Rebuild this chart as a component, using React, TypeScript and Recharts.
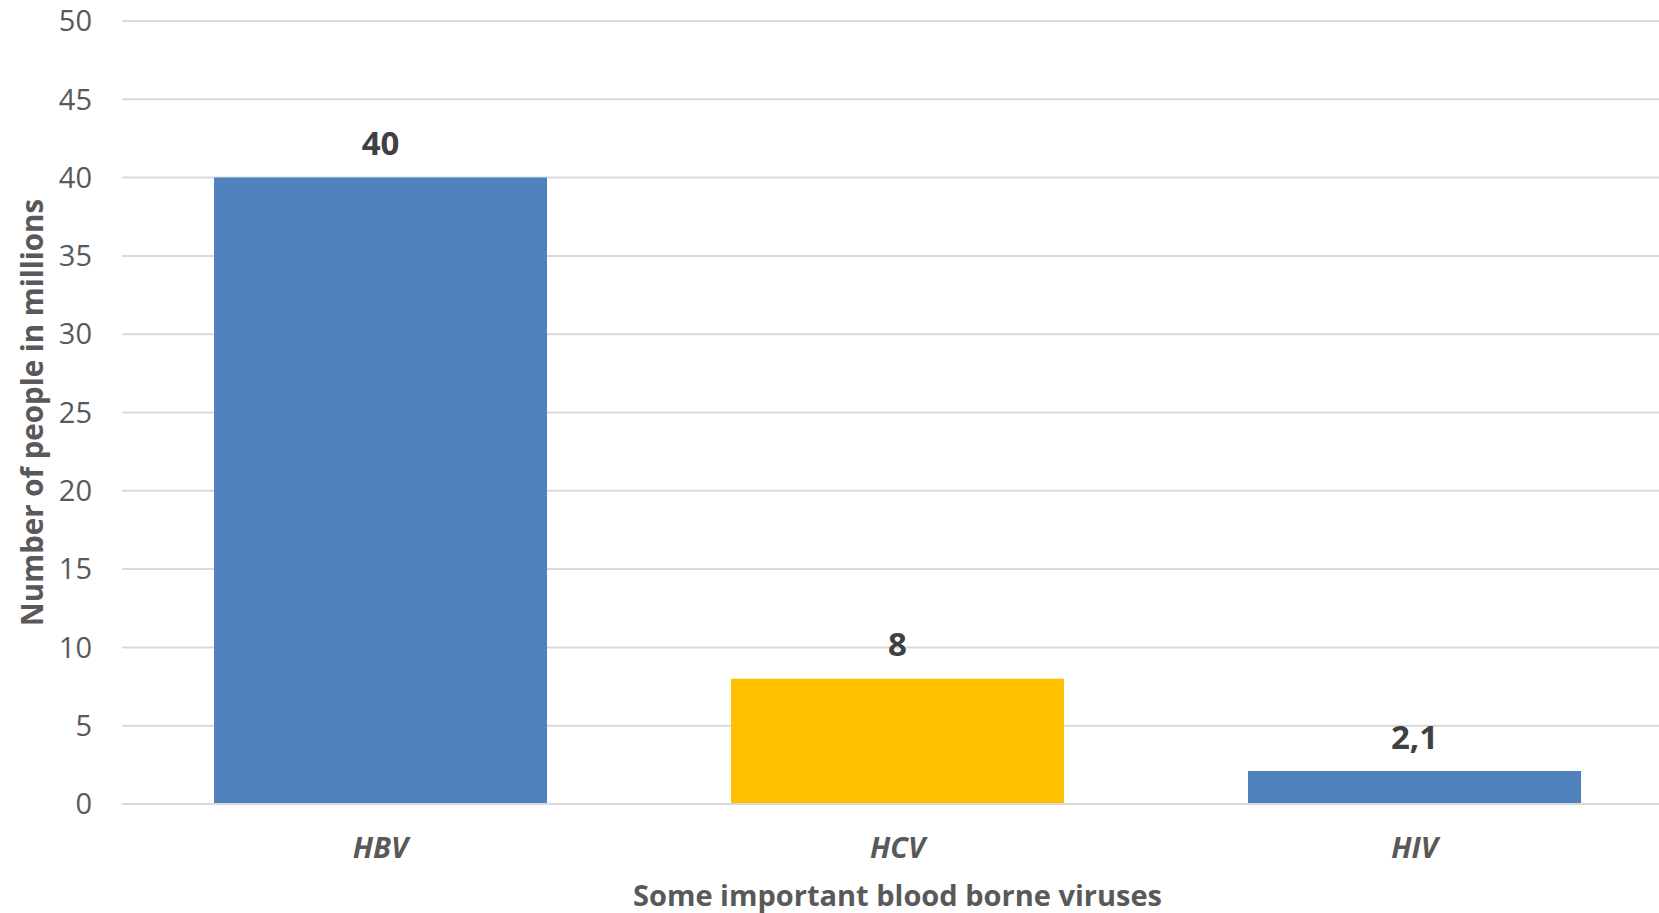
import React from 'react';
import { BarChart, Bar, XAxis, YAxis, CartesianGrid, Cell, LabelList, Label } from 'recharts';

const viruses = ['HBV', 'HCV', 'HIV'];
const peopleMillions = [40, 8, 2.1];
const barColors = ['#4f81bd', '#ffc000', '#4f81bd'];
const yTicks = [0, 5, 10, 15, 20, 25, 30, 35, 40, 45, 50];

const chartData = viruses.map((name, i) => ({ name, value: peopleMillions[i] }));

const FONT = '"Open Sans", "Noto Sans", sans-serif';

function CategoryTick(props: any) {
  const { x, y, payload } = props;
  return (
    <text
      x={x}
      y={y + 34}
      textAnchor="middle"
      dominantBaseline="central"
      fontFamily={FONT}
      fontSize={29}
      fontWeight={700}
      fontStyle="italic"
      fill="#595959"
    >
      {payload.value}
    </text>
  );
}

function ValueLabel(props: any) {
  const { x, y, width, value } = props;
  return (
    <text
      x={x + width / 2}
      y={y - 35}
      textAnchor="middle"
      dominantBaseline="central"
      fontFamily={FONT}
      fontSize={33}
      fontWeight={700}
      fill="#404040"
    >
      {String(value).replace('.', ',')}
    </text>
  );
}

export default function App() {
  // the original plot area runs a little past the right edge of the picture
  return (
    <div
      style={{
        position: 'fixed',
        left: 0,
        top: 0,
        width: 1659,
        height: 913,
        overflow: 'hidden',
        background: '#fff',
      }}
    >
      <BarChart
        width={1673}
        height={913}
        data={chartData}
        margin={{ top: 21, right: 0, bottom: 0, left: 0 }}
        barCategoryGap="17.8%"
      >
        <CartesianGrid vertical={false} stroke="#d9d9d9" strokeWidth={2} />
        <XAxis
          dataKey="name"
          height={109}
          axisLine={{ stroke: '#d9d9d9', strokeWidth: 2 }}
          tickLine={false}
          tick={<CategoryTick />}
          interval={0}
        >
          <Label
            content={({ viewBox }: any) => (
              <text
                x={viewBox.x + viewBox.width / 2}
                y={viewBox.y + 90}
                textAnchor="middle"
                dominantBaseline="central"
                fontFamily={FONT}
                fontSize={29}
                fontWeight={700}
                fill="#595959"
              >
                Some important blood borne viruses
              </text>
            )}
          />
        </XAxis>
        <YAxis
          width={122}
          domain={[0, 50]}
          ticks={yTicks}
          axisLine={false}
          tickLine={false}
          tickSize={0}
          tickMargin={30}
          tick={{ fontFamily: FONT, fontSize: 29, fill: '#595959' }}
        >
          <Label
            content={({ viewBox }: any) => {
              const cx = viewBox.x + 31;
              const cy = viewBox.y + viewBox.height / 2;
              return (
                <text
                  x={cx}
                  y={cy}
                  transform={`rotate(-90 ${cx} ${cy})`}
                  textAnchor="middle"
                  dominantBaseline="central"
                  fontFamily={FONT}
                  fontSize={29.5}
                  fontWeight={700}
                  fill="#595959"
                >
                  Number of people in millions
                </text>
              );
            }}
          />
        </YAxis>
        <Bar dataKey="value" isAnimationActive={false}>
          {chartData.map((d, i) => (
            <Cell key={d.name} fill={barColors[i]} />
          ))}
          <LabelList dataKey="value" content={<ValueLabel />} />
        </Bar>
      </BarChart>
    </div>
  );
}
